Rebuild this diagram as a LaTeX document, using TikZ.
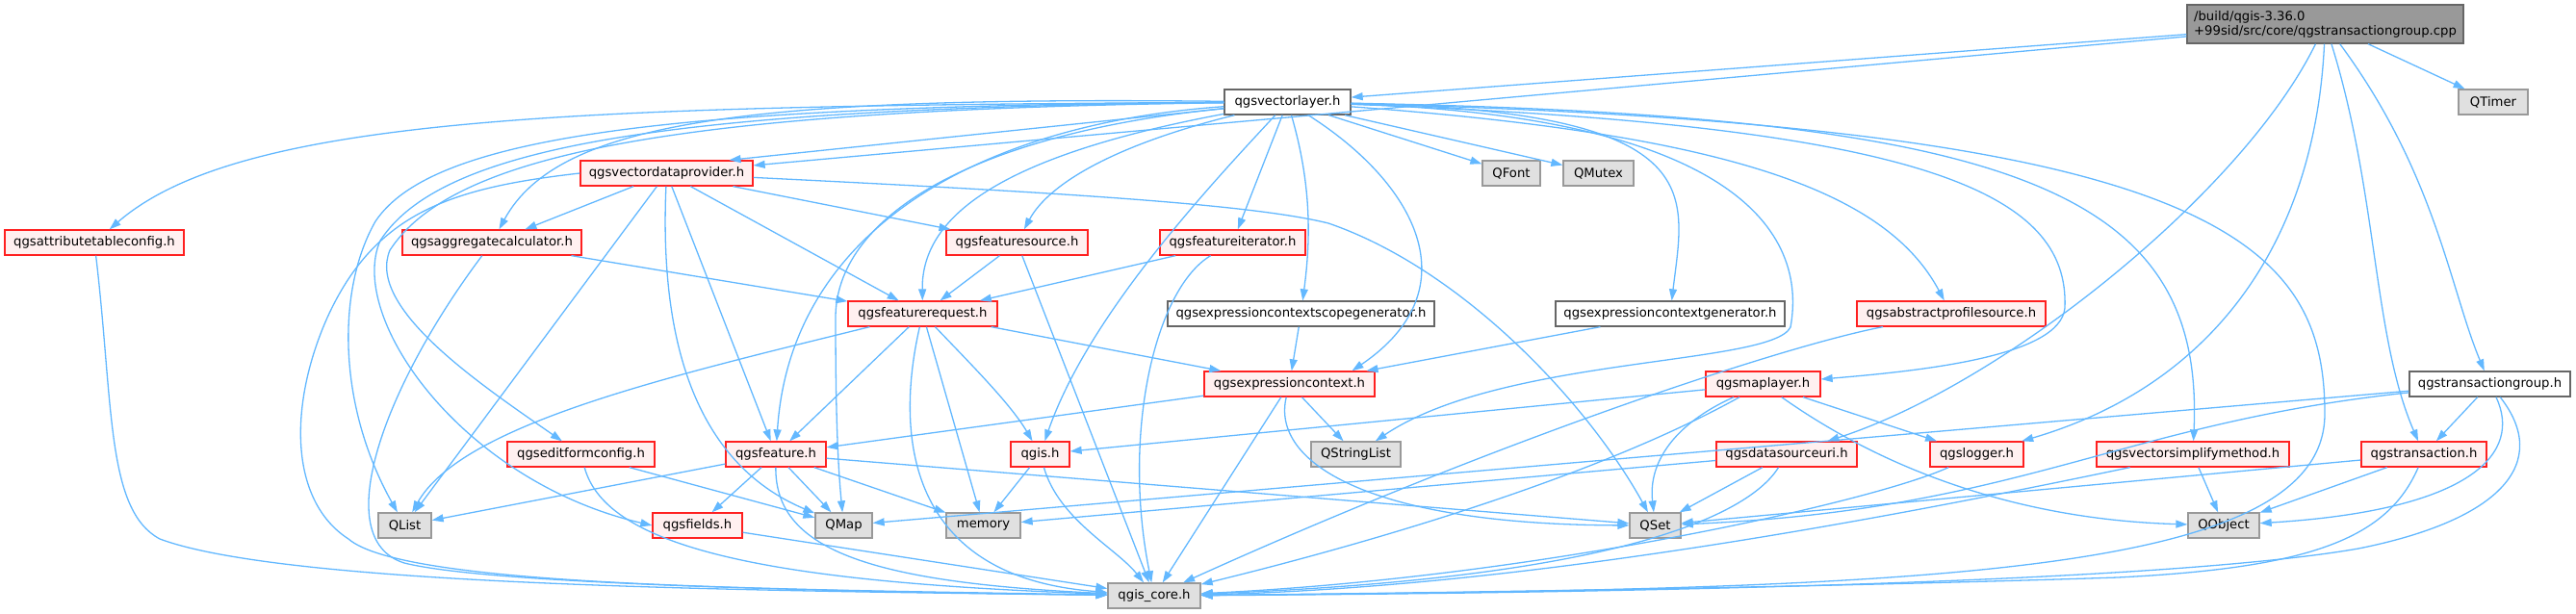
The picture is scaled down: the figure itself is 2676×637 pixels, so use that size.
\documentclass[tikz,border=0pt]{standalone}
\usepackage{fontspec}
\setmainfont{DejaVu Sans}
\usetikzlibrary{arrows.meta}
\definecolor{edgeblue}{HTML}{63B8FF}
\definecolor{redfill}{HTML}{FFF0F0}
\definecolor{nodered}{HTML}{FF2020}
\definecolor{greyfill}{HTML}{E0E0E0}
\definecolor{greyforty}{HTML}{666666}
\definecolor{greysixty}{HTML}{999999}
\begin{document}
\begin{tikzpicture}[x=1pt,y=-1pt,
 box/.style={rectangle, draw, line width=1.3pt, minimum height=26pt, inner sep=2pt, font=\fontsize{13.2}{15}\selectfont, anchor=center},
 rednode/.style={box, draw=nodered, fill=redfill},
 plainnode/.style={box, draw=greyforty, fill=white},
 extnode/.style={box, draw=greysixty, fill=greyfill},
 topnode/.style={box, draw=greyforty, fill=greysixty, minimum height=40pt, align=left},
 edge/.style={draw=edgeblue, line width=1.3pt, -{Triangle[length=12pt,width=8pt]}},
]
\useasboundingbox (0,0) rectangle (2676,637);

% nodes
\node[topnode, minimum width=287] (top) at (2415.5,25) {/build/qgis-3.36.0\\+99sid/src/core/qgstransactiongroup.cpp};
\node[plainnode, minimum width=131] (vl) at (1337.5,106) {qgsvectorlayer.h};
\node[extnode, minimum width=72] (qtimer) at (2590,106) {QTimer};
\node[rednode, minimum width=179] (vdp) at (692.5,180) {qgsvectordataprovider.h};
\node[extnode, minimum width=60] (qfont) at (1570,180) {QFont};
\node[extnode, minimum width=73] (qmutex) at (1660.5,180) {QMutex};
\node[rednode, minimum width=186] (atc) at (98,252) {qgsattributetableconfig.h};
\node[rednode, minimum width=186] (agg) at (511,252) {qgsaggregatecalculator.h};
\node[rednode, minimum width=147] (fs) at (1056.5,252) {qgsfeaturesource.h};
\node[rednode, minimum width=151] (fi) at (1280.5,252) {qgsfeatureiterator.h};
\node[rednode, minimum width=155] (fr) at (958.5,326) {qgsfeaturerequest.h};
\node[plainnode, minimum width=277] (ecsg) at (1351.5,326) {qgsexpressioncontextscopegenerator.h};
\node[plainnode, minimum width=238] (ecg) at (1735,326) {qgsexpressioncontextgenerator.h};
\node[rednode, minimum width=196] (aps) at (2027,326) {qgsabstractprofilesource.h};
\node[rednode, minimum width=177] (ec) at (1339.5,399) {qgsexpressioncontext.h};
\node[rednode, minimum width=119] (ml) at (1831.5,399) {qgsmaplayer.h};
\node[plainnode, minimum width=167] (tg) at (2586.5,399) {qgstransactiongroup.h};
\node[rednode, minimum width=153] (ef) at (603.5,472) {qgseditformconfig.h};
\node[rednode, minimum width=104] (feat) at (806,472) {qgsfeature.h};
\node[rednode, minimum width=61] (qgis) at (1080.5,472) {qgis.h};
\node[extnode, minimum width=93] (qsl) at (1408.5,472) {QStringList};
\node[rednode, minimum width=146] (dsu) at (1856,472) {qgsdatasourceuri.h};
\node[rednode, minimum width=97] (log) at (2053.5,472) {qgslogger.h};
\node[rednode, minimum width=200] (vsm) at (2278,472) {qgsvectorsimplifymethod.h};
\node[rednode, minimum width=130] (tr) at (2518,472) {qgstransaction.h};
\node[extnode, minimum width=55] (qlist) at (420.5,546) {QList};
\node[rednode, minimum width=93] (fields) at (724.5,546) {qgsfields.h};
\node[extnode, minimum width=59] (qmap) at (876.5,546) {QMap};
\node[extnode, minimum width=77] (memory) at (1021.5,546) {memory};
\node[extnode, minimum width=53] (qset) at (1719.5,546) {QSet};
\node[extnode, minimum width=74] (qobject) at (2310,546) {QObject};
\node[extnode, minimum width=96] (core) at (1199,619) {qgis\_core.h};

% edges from the cpp file
\draw[edge] (top) -- (vl);
\draw[edge] (top) -- (vdp);
\draw[edge] (top) .. controls (2330,200) and (2080,400) .. (dsu);
\draw[edge] (top) .. controls (2405,250) and (2300,400) .. (log);
\draw[edge] (top) .. controls (2470,200) and (2465,350) .. (tr);
\draw[edge] (top) .. controls (2530,180) and (2545,300) .. (tg);
\draw[edge] (top) -- (qtimer);

% edges from qgsvectorlayer.h
\draw[edge] (vl) -- ([xshift=65pt]vdp.north);
\draw[edge] (vl) .. controls (600,110) and (250,120) .. (atc);
\draw[edge] (vl) .. controls (780,100) and (580,125) .. (agg);
\draw[edge] (vl) .. controls (700,110) and (450,140) .. (390,230) .. controls (350,300) and (350,420) .. (qlist);
\draw[edge] (vl) .. controls (700,112) and (460,150) .. (395,250) .. controls (360,330) and (480,500) .. (fields.west);
\draw[edge] (vl) .. controls (700,114) and (470,160) .. (405,260) .. controls (380,320) and (500,400) .. (ef);
\draw[edge] (vl) .. controls (1050,160) and (957,220) .. (fr);
\draw[edge] (vl) .. controls (1160,150) and (1090,190) .. (fs);
\draw[edge] (vl) -- (fi);
\draw[edge] (vl) .. controls (1000,130) and (820,250) .. (feat);
\draw[edge] (vl) .. controls (1000,140) and (868,230) .. (868,330) .. controls (868,420) and (870,480) .. (qmap);
\draw[edge] (vl) .. controls (1250,200) and (1130,330) .. (qgis);
\draw[edge] (vl) .. controls (1470,190) and (1530,300) .. ([xshift=65pt]ec.north);
\draw[edge] (vl) -- (qfont);
\draw[edge] (vl) -- (qmutex);
\draw[edge] (vl) .. controls (1365,200) and (1360,260) .. (ecsg);
\draw[edge] (vl) .. controls (1780,115) and (1750,200) .. (ecg);
\draw[edge] (vl) .. controls (1800,140) and (1960,200) .. (aps);
\draw[edge] (vl) .. controls (2000,130) and (2150,200) .. (2145,320) .. controls (2140,370) and (2000,385) .. (ml);
\draw[edge] (vl) .. controls (2100,120) and (2290,200) .. (vsm);
\draw[edge] (vl) .. controls (2300,130) and (2415,250) .. (2415,430) .. controls (2415,600) and (2000,612) .. (core);
\draw[edge] (vl) .. controls (1780,120) and (1880,230) .. (1860,340) .. controls (1840,380) and (1560,370) .. (qsl);

% edges from qgsvectordataprovider.h
\draw[edge] (vdp) -- (agg);
\draw[edge] (vdp) -- (fs);
\draw[edge] (vdp) -- (fr);
\draw[edge] (vdp) -- (feat);
\draw[edge] (vdp) -- (qlist);
\draw[edge] (vdp) .. controls (685,350) and (720,480) .. (qmap);
\draw[edge] (vdp) .. controls (1100,200) and (1300,212) .. (1380,232) .. controls (1520,280) and (1650,420) .. (qset);
\draw[edge] (vdp.west) .. controls (470,195) and (390,220) .. (340,330) .. controls (300,420) and (300,520) .. (362,560) .. controls (420,610) and (800,612) .. (core);

% other edges
\draw[edge] (atc) .. controls (118,420) and (110,530) .. (166,560) .. controls (300,610) and (800,614) .. (core);
\draw[edge] (agg) -- (fr);
\draw[edge] (agg) .. controls (400,400) and (340,560) .. (420,585) .. controls (500,605) and (800,614) .. (core);
\draw[edge] (fs) -- (fr);
\draw[edge] (fs) -- (core);
\draw[edge] (fi) -- (fr);
\draw[edge] (fi) .. controls (1200,300) and (1165,450) .. (core);
\draw[edge] (fr) .. controls (700,390) and (480,440) .. (qlist);
\draw[edge] (fr) -- (feat);
\draw[edge] (fr) .. controls (930,450) and (940,600) .. (core);
\draw[edge] (fr) -- (memory);
\draw[edge] (fr) .. controls (1010,380) and (1050,420) .. (qgis);
\draw[edge] (fr) -- (ec);
\draw[edge] (ecsg) -- (ec);
\draw[edge] (ecg) -- ([xshift=80pt]ec.north);
\draw[edge] (aps) .. controls (1850,360) and (1550,460) .. (core);
\draw[edge] (ec) -- (feat);
\draw[edge] (ec) -- (core);
\draw[edge] (ec) -- (qsl);
\draw[edge] (ec) .. controls (1320,480) and (1420,545) .. (qset);
\draw[edge] (qgis) -- (memory);
\draw[edge] (qgis) .. controls (1100,540) and (1160,570) .. (core);
\draw[edge] (ml) -- (qgis);
\draw[edge] (ml) .. controls (1740,440) and (1712,480) .. (qset);
\draw[edge] (ml) .. controls (1650,500) and (1400,570) .. (core);
\draw[edge] (ml) .. controls (1960,490) and (2100,540) .. (qobject);
\draw[edge] (ml) -- (log);
\draw[edge] (tg) -- (tr);
\draw[edge] (tg) .. controls (2620,470) and (2570,530) .. (qobject);
\draw[edge] (tg) .. controls (2650,480) and (2600,540) .. (2450,570) .. controls (2250,605) and (1700,616) .. (core);
\draw[edge] (tg) -- (qmap);
\draw[edge] (tg) .. controls (2200,440) and (2100,530) .. (qset);
\draw[edge] (tr) -- (qobject);
\draw[edge] (tr) .. controls (2480,560) and (2400,590) .. (2200,600) .. controls (1900,610) and (1500,616) .. (core);
\draw[edge] (tr) -- (qset);
\draw[edge] (vsm) -- (qobject);
\draw[edge] (vsm) .. controls (2000,530) and (1600,610) .. (core);
\draw[edge] (log) .. controls (1950,520) and (1600,600) .. (core);
\draw[edge] (dsu) -- (qset);
\draw[edge] (dsu) .. controls (1820,530) and (1700,600) .. (core);
\draw[edge] (dsu) -- (memory);
\draw[edge] (ef) -- (qmap);
\draw[edge] (ef) .. controls (630,570) and (800,605) .. (core);
\draw[edge] (fields) -- (core);
\draw[edge] (feat) -- (qlist);
\draw[edge] (feat) -- (fields);
\draw[edge] (feat) -- (qmap);
\draw[edge] (feat) -- (memory);
\draw[edge] (feat) -- (qset);
\draw[edge] (feat) .. controls (805,570) and (900,605) .. (core);
\end{tikzpicture}
\end{document}
